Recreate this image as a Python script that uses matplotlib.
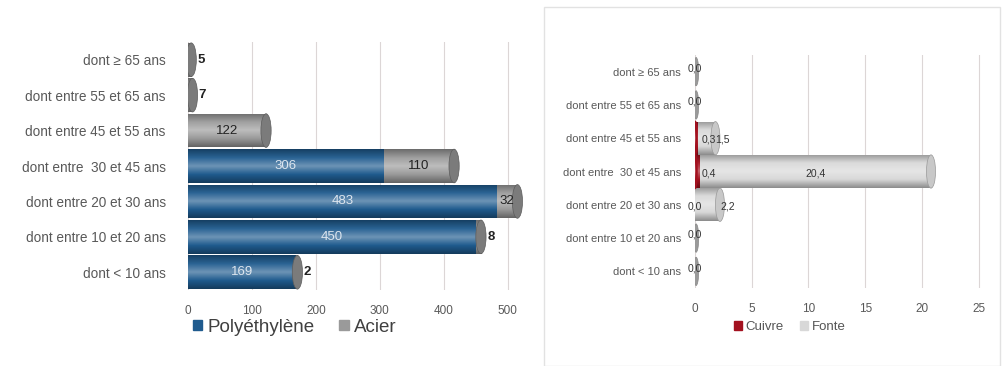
import numpy as np
import matplotlib
matplotlib.use("Agg")
import matplotlib.pyplot as plt
from matplotlib.colors import LinearSegmentedColormap, to_rgb
from matplotlib.patches import Ellipse, Rectangle

# categories (bottom to top)
categories = ["dont < 10 ans", "dont entre 10 et 20 ans", "dont entre 20 et 30 ans",
              "dont entre  30 et 45 ans", "dont entre 45 et 55 ans",
              "dont entre 55 et 65 ans", "dont \u2265 65 ans"]

polyethylene = [169, 450, 483, 306, 0, 0, 0]
acier = [2, 8, 32, 110, 122, 7, 5]

cuivre = [0.0, 0.0, 0.0, 0.4, 0.3, 0.0, 0.0]
fonte = [0.0, 0.0, 2.2, 20.4, 1.5, 0.0, 0.0]

left_ticks = [0, 100, 200, 300, 400, 500]
right_ticks = [0, 5, 10, 15, 20, 25]

plt.rcParams['font.family'] = ['Liberation Sans', 'DejaVu Sans']

W, H = 1002, 366
fig = plt.figure(figsize=(W / 100, H / 100), dpi=100)
fig.patch.set_facecolor("white")


def px_axes(x0, y0, x1, y1):
    return fig.add_axes([x0 / W, 1 - y1 / H, (x1 - x0) / W, (y1 - y0) / H])


def shade(c, f=0.0):
    r = np.array(to_rgb(c))
    if f >= 0:
        return tuple(r + (1 - r) * f)
    return tuple(r * (1 + f))


def cylinder(ax, bars, color):
    cmap = LinearSegmentedColormap.from_list(
        "cyl", [shade(color, -0.35), shade(color, 0.0), shade(color, 0.35),
                shade(color, 0.05), shade(color, -0.3)])
    grad = np.linspace(0, 1, 64).reshape(-1, 1)
    for b in bars:
        w = b.get_width()
        if w <= 0:
            continue
        x, y, h = b.get_x(), b.get_y(), b.get_height()
        im = ax.imshow(grad, extent=(x, x + w, y, y + h), cmap=cmap,
                       aspect="auto", origin="lower", zorder=2)
        im.set_clip_path(b)
        b.set_facecolor("none")


def caps(ax, lefts, widths, color, cap_w, h):
    for i, (l, w) in enumerate(zip(lefts, widths)):
        if w <= 0:
            continue
        e = Ellipse((l + w, i), cap_w, h, facecolor=shade(color, -0.2),
                    edgecolor=shade(color, -0.4), lw=0.5, zorder=3)
        ax.add_patch(e)


def style(ax, ticks, xmax, ypad, fs_y):
    ax.set_xlim(0, xmax)
    ax.set_ylim(-0.5, len(categories) - 0.5)
    ax.set_xticks(ticks)
    ax.set_yticks(range(len(categories)))
    ax.set_yticklabels(categories)
    for s in ax.spines.values():
        s.set_visible(False)
    ax.tick_params(axis="both", length=0, colors="#595959")
    ax.tick_params(axis="x", pad=11, labelsize=8.5)
    ax.tick_params(axis="y", pad=ypad, labelsize=fs_y)
    ax.grid(axis="x", color="#dcd6d6", lw=0.8, zorder=0)
    ax.set_axisbelow(True)


# ---- left chart
axl = px_axes(188, 42, 527, 290)
h = 0.95
y = np.arange(len(categories))
b1 = axl.barh(y, polyethylene, height=h, color="#1f5b8e", zorder=2)
b2 = axl.barh(y, acier, left=polyethylene, height=h, color="#9a9a9a", zorder=2)
cylinder(axl, b1, "#1f5b8e")
cylinder(axl, b2, "#9a9a9a")
caps(axl, polyethylene, acier, "#9a9a9a", 16, h)
style(axl, left_ticks, 530, 16, 9.8)

for i in range(len(categories)):
    p, a = polyethylene[i], acier[i]
    if p > 0:
        axl.text(p / 2, i, str(p), ha="center", va="center", color="#dde6ef",
                 fontsize=9.5, zorder=5)
    if a >= 20:
        axl.text(p + a / 2, i, str(a), ha="center", va="center", color="#222222",
                 fontsize=9.5, zorder=5)
    else:
        axl.text(p + a + 10, i, str(a), ha="left", va="center", color="#222222",
                 fontsize=9.5, fontweight="bold", zorder=5)

fig.legend(handles=[Rectangle((0, 0), 1, 1, color="#1f5b8e"),
                    Rectangle((0, 0), 1, 1, color="#9a9a9a")],
           labels=["Polyéthylène", "Acier"], loc="center left",
           bbox_to_anchor=(176 / W, 1 - 327 / H), ncol=2, frameon=False,
           fontsize=13.5, handlelength=0.5, handleheight=0.5, handletextpad=0.3,
           columnspacing=1.3, labelcolor="#404040")

# ---- right chart
fig.add_artist(Rectangle((544 / W, 0.0), (W - 546) / W, 1 - 7 / H,
                         transform=fig.transFigure, fill=False,
                         edgecolor="#e2e2e2", lw=1))
axr = px_axes(695, 55, 990, 288)
hr = 1.0
c1 = axr.barh(y, cuivre, height=hr, color="#a3111f", zorder=2)
c2 = axr.barh(y, fonte, left=cuivre, height=hr, color="#d8d8d8", zorder=2)
cylinder(axr, c1, "#a3111f")
cylinder(axr, c2, "#d8d8d8")
totals = [c + f for c, f in zip(cuivre, fonte)]
for i in range(len(categories)):
    if totals[i] > 0:
        e = Ellipse((totals[i], i), 0.8, hr, facecolor="#c8c8c8",
                    edgecolor="#999999", lw=0.5, zorder=3)
        axr.add_patch(e)
    else:
        e = Ellipse((0.1, i), 0.45, hr * 0.85, facecolor="#9a9a9a",
                    edgecolor="#888888", lw=0.5, zorder=3)
        axr.add_patch(e)
    if cuivre[i] > 0:
        axr.add_patch(Ellipse((0, i), 0.3, hr, facecolor="none",
                              edgecolor="#a3111f", lw=1.5, zorder=4))
style(axr, right_ticks, 26, 10, 8)

for i in range(len(categories)):
    c, f = cuivre[i], fonte[i]
    if c == 0 and f == 0:
        axr.text(0, i + 0.1, "0,0", ha="center", va="center", fontsize=7.5,
                 color="#333333", zorder=5)
        continue
    axr.text(max(c, 0.6) if f > 0 else 0, i - 0.05,
             f"{c:.1f}".replace(".", ","), ha="left" if c > 0 else "right",
             va="center", fontsize=7.5, color="#333333", zorder=5)
    axr.text(c + f / 2 if f > 5 else c + f, i - 0.05,
             f"{f:.1f}".replace(".", ","), ha="center" if f > 5 else "left",
             va="center", fontsize=7.5, color="#333333", zorder=5)

fig.legend(handles=[Rectangle((0, 0), 1, 1, color="#a3111f"),
                    Rectangle((0, 0), 1, 1, color="#d8d8d8")],
           labels=["Cuivre", "Fonte"], loc="center left",
           bbox_to_anchor=(722 / W, 1 - 327 / H), ncol=2, frameon=False,
           fontsize=9.5, handlelength=0.6, handleheight=0.6, handletextpad=0.3,
           columnspacing=1.2, labelcolor="#555555")

fig.savefig("out.png", dpi=100)
